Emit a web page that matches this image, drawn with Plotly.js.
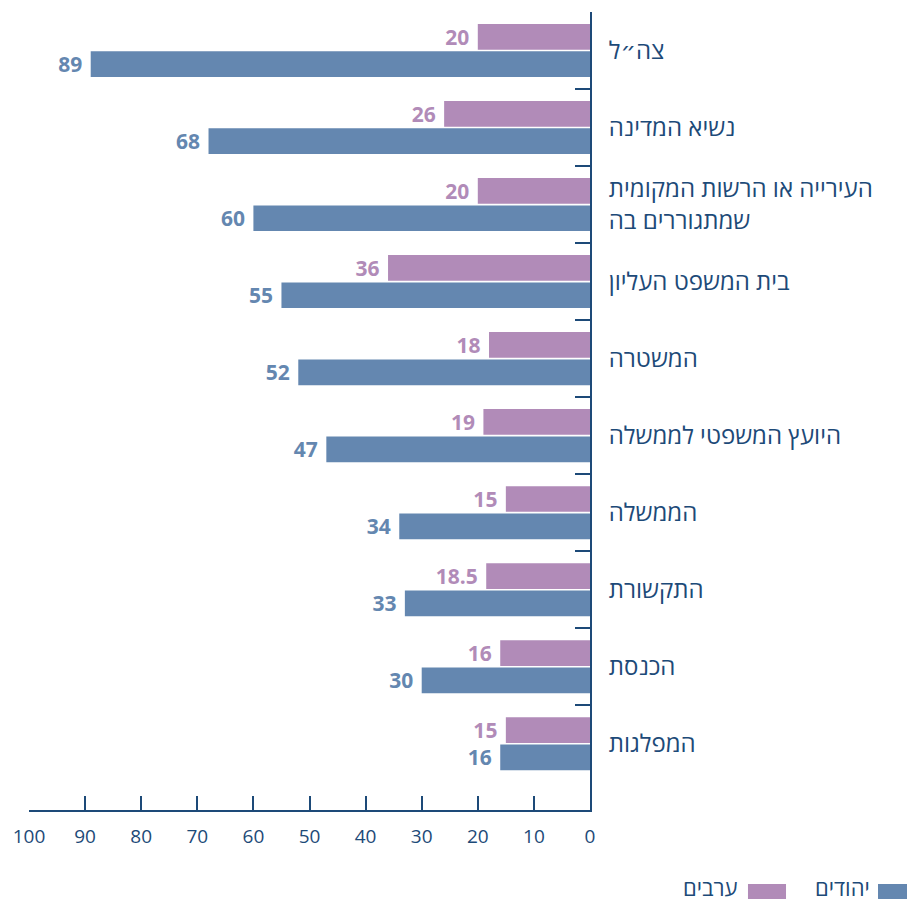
<!DOCTYPE html>
<html>
<head>
<meta charset="utf-8">
<script src="https://cdn.plot.ly/plotly-3.0.1.min.js"></script>
<style>html,body{margin:0;padding:0;background:#fff;}#chart{width:907px;height:899px;}</style>
</head>
<body>
<div id="chart"></div>
<script>
const categories = [
  'צה״ל',
  'נשיא המדינה',
  'העירייה או הרשות המקומית<br>שמתגוררים בה',
  'בית המשפט העליון',
  'המשטרה',
  'היועץ המשפטי לממשלה',
  'הממשלה',
  'התקשורת',
  'הכנסת',
  'המפלגות'
];
const jews = [89, 68, 60, 55, 52, 47, 34, 33, 30, 16];
const arabs = [20, 26, 20, 36, 18, 19, 15, 18.5, 16, 15];
const seriesNames = ['ערבים', 'יהודים'];
const xTicks = [0, 10, 20, 30, 40, 50, 60, 70, 80, 90, 100];

const BLUE = '#6487b0';
const PURPLE = '#b18bb8';
const AXIS = '#1d4a78';
const FONT = '"Open Sans", "Noto Sans", "DejaVu Sans", sans-serif';
const PAD = '\u00a0';

const traces = [
  {
    type: 'bar', orientation: 'h', name: seriesNames[0],
    x: arabs, y: categories,
    marker: {color: PURPLE},
    text: arabs.map(v => String(v) + PAD), textposition: 'outside', cliponaxis: false,
    constraintext: 'none',
    textfont: {family: FONT, size: 21, color: PURPLE, weight: 'bold'},
    hoverinfo: 'x+name'
  },
  {
    type: 'bar', orientation: 'h', name: seriesNames[1],
    x: jews, y: categories,
    marker: {color: BLUE},
    text: jews.map(v => String(v) + PAD), textposition: 'outside', cliponaxis: false,
    constraintext: 'none',
    textfont: {family: FONT, size: 21, color: BLUE, weight: 'bold'},
    hoverinfo: 'x+name'
  }
];

const layout = {
  width: 907, height: 899,
  margin: {l: 29, r: 317, t: 12, b: 89, pad: 0},
  paper_bgcolor: '#fff', plot_bgcolor: '#fff',
  font: {family: FONT, color: AXIS},
  barmode: 'group', bargap: 0.29, bargroupgap: 0.06,
  showlegend: false,
  xaxis: {
    range: [100, 0], tickvals: xTicks, ticktext: xTicks.map(String),
    showgrid: false, zeroline: false,
    showline: true, linecolor: AXIS, linewidth: 2,
    ticks: 'inside', ticklen: 14, tickwidth: 2, tickcolor: AXIS,
    tickfont: {family: FONT, size: 19, color: AXIS},
    ticklabelstandoff: 8
  },
  yaxis: {
    type: 'category', categoryarray: categories, categoryorder: 'array',
    range: [9.86, -0.5], side: 'right',
    showgrid: false, zeroline: false,
    showline: true, linecolor: AXIS, linewidth: 2,
    ticks: 'inside', tickson: 'boundaries', ticklen: 15, tickwidth: 2, tickcolor: AXIS,
    tickfont: {family: FONT, size: 24, color: AXIS},
    ticklabelstandoff: 12
  },
  shapes: [
    {type: 'rect', xref: 'paper', yref: 'paper', x0: 1.5134, x1: 1.5651, y0: -0.0927, y1: -0.1115,
     fillcolor: BLUE, line: {width: 0}},
    {type: 'rect', xref: 'paper', yref: 'paper', x0: 1.2816, x1: 1.3494, y0: -0.0927, y1: -0.1115,
     fillcolor: PURPLE, line: {width: 0}}
  ],
  annotations: [
    {xref: 'paper', yref: 'paper', x: 1.5027, y: -0.097, xanchor: 'right', yanchor: 'middle',
     text: seriesNames[1], showarrow: false, font: {family: FONT, size: 22, color: AXIS}},
    {xref: 'paper', yref: 'paper', x: 1.2674, y: -0.097, xanchor: 'right', yanchor: 'middle',
     text: seriesNames[0], showarrow: false, font: {family: FONT, size: 22, color: AXIS}}
  ]
};

Plotly.newPlot('chart', traces, layout, {displayModeBar: false, staticPlot: true});
</script>
</body>
</html>
